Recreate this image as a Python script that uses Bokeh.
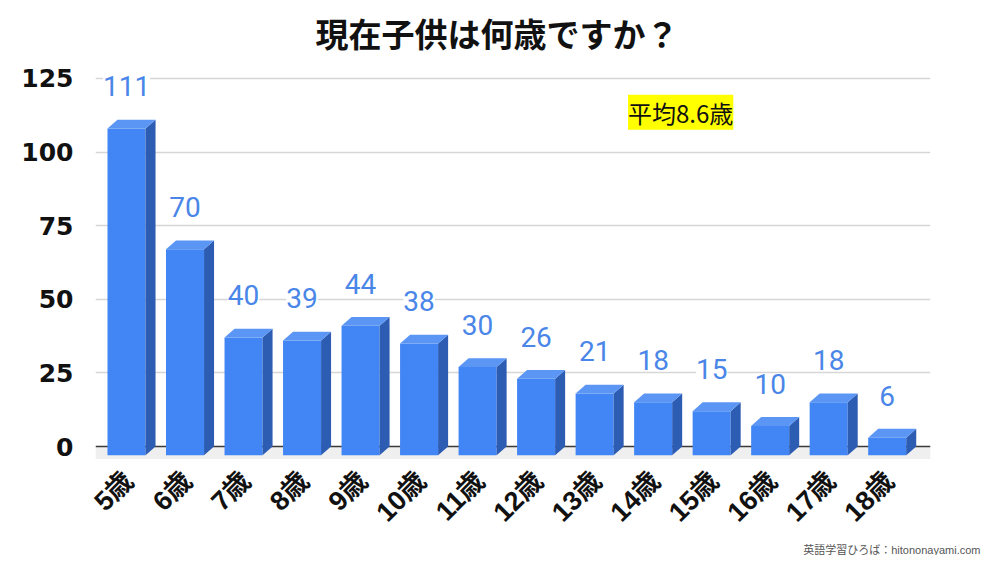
import math
from bokeh.plotting import figure
from bokeh.models import ColumnDataSource, Range1d, FixedTicker, Label, Title
from bokeh.embed import file_html
from bokeh.resources import INLINE
from bokeh.core.properties import value

# ---- data ----
ages = ["5歳", "6歳", "7歳", "8歳", "9歳", "10歳", "11歳", "12歳",
        "13歳", "14歳", "15歳", "16歳", "17歳", "18歳"]
counts = [111, 70, 40, 39, 44, 38, 30, 26, 21, 18, 15, 10, 18, 6]
y_ticks = [0, 25, 50, 75, 100, 125]
title_text = "現在子供は何歳ですか？"
avg_text = "平均8.6歳"
credit_text = "英語学習ひろば：hitononayami.com"

# ---- 3D bar geometry (style constants) ----
W = 0.65    # front face width (x units)
DX = 0.171  # depth offset in x
DY = 3.0    # depth offset in y (value units)
LBL_SHIFT = 0.04  # x-label anchor shift

xs = list(range(len(counts)))
front_l = [x - W / 2 for x in xs]
front_r = [x + W / 2 for x in xs]
front_top = [v - DY for v in counts]
side_xs = [[r, r + DX, r + DX, r] for r in front_r]
side_ys = [[-DY, 0, v, v - DY] for v in counts]
top_xs = [[l, l + DX, r + DX, r] for l, r in zip(front_l, front_r)]
top_ys = [[v - DY, v, v, v - DY] for v in counts]

XMIN, XMAX = -0.53, 13.74
YMIN, YMAX = -5.43, 131.11
LABEL_FONT = "Liberation Sans, Noto Sans CJK JP"

p = figure(frame_width=835, frame_height=402,
           x_range=Range1d(XMIN, XMAX), y_range=Range1d(YMIN, YMAX),
           output_backend="svg", toolbar_location=None,
           min_border_left=95, min_border_right=54,
           min_border_top=60, min_border_bottom=0)
p.outline_line_color = None
p.background_fill_color = "white"
p.border_fill_color = "white"

# title
p.title.text = title_text
p.title.text_font = "Noto Sans CJK JP"
p.title.text_font_size = "33px"
p.title.text_font_style = "bold"
p.title.text_color = "#111111"
p.title.align = "left"
p.title.offset = 220
p.title.standoff = 8

# grid
p.xgrid.visible = False
p.ygrid.ticker = FixedTicker(ticks=y_ticks[1:])
p.ygrid.grid_line_color = "#d6d6d6"
p.ygrid.grid_line_width = 1.5

# floor
p.quad(left=XMIN, right=XMAX, bottom=-4.2, top=0, fill_color="#efefef", line_color=None)
p.hspan(y=[0], line_color="#3a3a3a", line_width=1.5)

# bars
p.quad(left=front_l, right=front_r, bottom=-DY, top=front_top,
       fill_color="#4285F4", line_color=None)
p.patches(side_xs, side_ys, fill_color="#2D5CB3", line_color=None)
p.patches(top_xs, top_ys, fill_color="#5C96F5", line_color=None)

# value labels
src = ColumnDataSource(dict(x=xs, y=[v + 11.3 for v in counts],
                            t=[str(v) for v in counts]))
p.text(x="x", y="y", text="t", source=src, text_align="center",
       text_baseline="middle", text_font=value("Roboto"),
       text_font_size="28px", text_color="#4A86E8",
       background_fill_color="white")

# axes
ya = p.yaxis[0]
ya.ticker = FixedTicker(ticks=y_ticks)
ya.axis_line_color = None
ya.major_tick_line_color = None
ya.minor_tick_line_color = None
ya.major_tick_out = 0
ya.major_tick_in = 0
ya.major_label_standoff = 22
ya.major_label_text_font = "DejaVu Sans"
ya.major_label_text_font_style = "bold"
ya.major_label_text_font_size = "25px"
ya.major_label_text_color = "#111111"

tick_pos = [x + LBL_SHIFT for x in xs]
xa = p.xaxis[0]
xa.ticker = FixedTicker(ticks=tick_pos)
xa.major_label_overrides = {t: a for t, a in zip(tick_pos, ages)}
xa.major_label_orientation = math.pi / 4
xa.axis_line_color = None
xa.major_tick_line_color = None
xa.minor_tick_line_color = None
xa.major_tick_out = 0
xa.major_tick_in = 0
xa.major_label_standoff = 14
xa.major_label_text_font = LABEL_FONT
xa.major_label_text_font_style = "bold"
xa.major_label_text_font_size = "27px"
xa.major_label_text_color = "#111111"

# average annotation
p.add_layout(Label(x=9.47, y=113.5, text=avg_text, text_align="center",
                   text_baseline="middle", text_font="Noto Sans CJK JP",
                   text_font_size="24px", text_color="#111111",
                   background_fill_color="#FFFF00", padding=0))

# credit
p.add_layout(Title(text=credit_text, align="right", offset=-50,
                   text_font=LABEL_FONT, text_font_size="11px",
                   text_font_style="normal", text_color="#555555",
                   standoff=0), "below")

open("out.html", "w").write(file_html(p, INLINE))
